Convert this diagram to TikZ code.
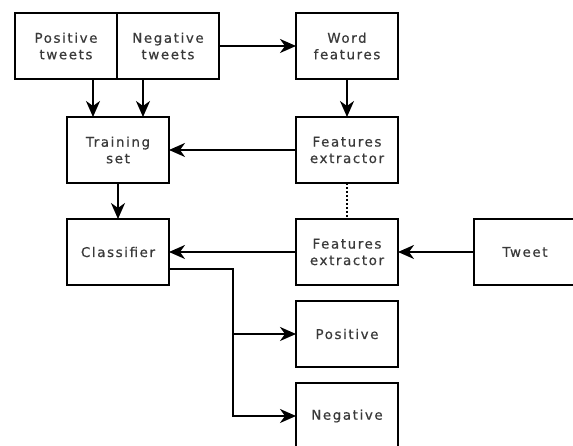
\documentclass[tikz,border=0pt]{standalone}
\usepackage{fontspec}
\setmainfont{DejaVu Sans}[LetterSpace=12,FakeBold=0.6]
\usetikzlibrary{arrows.meta}
\definecolor{txt}{HTML}{3A3A3A}
\tikzset{
  box/.style={draw=black, line width=2pt, minimum width=102pt, minimum height=66pt,
    inner sep=0pt, outer sep=0pt, align=center, text=txt,
    font=\fontsize{13.4}{16.5}\selectfont},
  arr/.style={draw=black, line width=2pt, -{Stealth[length=16pt,width=14pt,inset=5pt]}},
  dotline/.style={draw=black, line width=2pt, dash pattern=on 2pt off 2pt}
}
\begin{document}
\begin{tikzpicture}[x=1pt,y=1pt]
\clip (0,0) rectangle (573,446);
\fill[white] (0,0) rectangle (573,446);
% px (x, y-from-top) -> (x, 446-y)
\node[box] (pt)  at (66,  400) {Positive\\tweets};
\node[box] (nt)  at (168, 400) {Negative\\tweets};
\node[box] (wf)  at (347, 400) {Word\\features};
\node[box] (ts)  at (118, 296) {Training\\set};
\node[box] (fe1) at (347, 296) {Features\\extractor};
\node[box] (cl)  at (118, 194) {Classifier};
\node[box] (fe2) at (347, 194) {Features\\extractor};
\node[box] (tw)  at (525, 194) {Tweet};
\node[box] (pos) at (347, 112) {Positive};
\node[box] (neg) at (347,  30) {Negative};

\draw[arr] ([xshift=27pt]pt.south) -- ([xshift=27pt]pt.south |- ts.north);
\draw[arr] ([xshift=-25pt]nt.south) -- ([xshift=-25pt]nt.south |- ts.north);
\draw[arr] (nt.east) -- (wf.west);
\draw[arr] (wf.south) -- (fe1.north);
\draw[arr] (fe1.west) -- (ts.east);
\draw[arr] (ts.south) -- (cl.north);
\draw[dotline] (fe1.south) -- (fe2.north);
\draw[arr] (fe2.west) -- (cl.east);
\draw[arr] (tw.west) -- (fe2.east);
\draw[arr] ([yshift=-17pt]cl.east) -- ++(64pt,0) |- (pos.west);
\draw[arr] ([yshift=-17pt]cl.east) -- ++(64pt,0) |- (neg.west);
\end{tikzpicture}
\end{document}
